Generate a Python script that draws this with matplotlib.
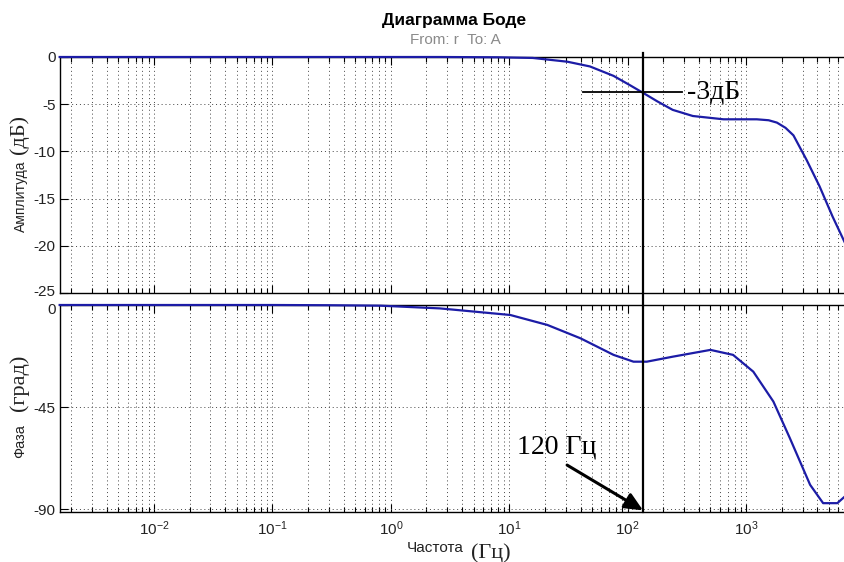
import numpy as np
import matplotlib
matplotlib.use("Agg")
import matplotlib.pyplot as plt
from matplotlib.lines import Line2D
from matplotlib.ticker import LogLocator, NullFormatter
import matplotlib.transforms as mtransforms

# ---- data ----
mag_freq = [0.0016, 0.01, 0.1, 1.0, 2.6, 8.0, 15.8, 31.0, 48.0, 76.0, 105.0, 135.0,
            178.0, 240.0, 355.0, 645.0, 1230.0, 1550.0, 1820.0, 2150.0, 2510.0,
            3240.0, 4170.0, 5370.0, 6840.0]
mag_db = [0.0, 0.0, 0.0, 0.0, 0.0, -0.03, -0.1, -0.5, -1.0, -2.0, -3.0, -3.8,
          -4.7, -5.6, -6.25, -6.6, -6.6, -6.7, -6.95, -7.5, -8.3,
          -10.9, -13.7, -16.9, -19.7]

ph_freq = [0.0016, 0.01, 0.1, 0.3, 0.82, 2.6, 10.2, 21.0, 40.0, 76.0, 112.0, 145.0,
           240.0, 500.0, 776.0, 1150.0, 1700.0, 2340.0, 3470.0, 4470.0, 5890.0, 6840.0]
ph_deg = [0.0, 0.0, 0.0, -0.1, -0.3, -1.5, -4.4, -8.8, -14.7, -22.0, -25.0, -25.0,
          -22.8, -19.8, -22.0, -29.4, -42.6, -58.7, -79.3, -87.4, -87.4, -84.4]

cursor_freq = 135.0
ref_db = -3.75
ref_line = [41.7, 286.0]
arrow_start = [30.8, -70.6]
arrow_end = [135.0, -90.6]
label_pos = [11.7, -65.3]
xlims = [10 ** -2.793, 10 ** 3.835]
mag_ticks = [0, -5, -10, -15, -20, -25]
ph_ticks = [0, -45, -90]
xticks = [1e-2, 1e-1, 1e0, 1e1, 1e2, 1e3]
xticklabels = [r"$10^{-2}$", r"$10^{-1}$", r"$10^{0}$", r"$10^{1}$", r"$10^{2}$", r"$10^{3}$"]

W, H = 845, 562
fig = plt.figure(figsize=(W / 100, H / 100), dpi=100)
plt.rcParams['mathtext.fontset'] = 'custom'
plt.rcParams['mathtext.rm'] = 'Liberation Sans'
plt.rcParams['mathtext.it'] = 'Liberation Sans'

sans = ['Liberation Sans', 'DejaVu Sans']
serif = ['Liberation Serif', 'DejaVu Serif']
line_col = '#1c1ca6'
tick_col = '#222222'

def fx(px):
    return px / W

def fy(py):
    return 1 - py / H

ax1 = fig.add_axes([fx(60), fy(293), fx(845) - fx(60), fy(57) - fy(293)])
ax2 = fig.add_axes([fx(60), fy(512), fx(845) - fx(60), fy(305) - fy(512)])

for ax in (ax1, ax2):
    ax.set_xscale('log')
    ax.set_xlim(xlims)
    ax.xaxis.set_major_locator(LogLocator(base=10, numticks=20))
    ax.xaxis.set_minor_locator(LogLocator(base=10, subs=np.arange(2, 10), numticks=200))
    ax.xaxis.set_minor_formatter(NullFormatter())
    ax.grid(True, which='major', axis='both', color='#444444', linestyle=(0, (1, 3)), linewidth=0.7)
    ax.grid(True, which='minor', axis='x', color='#444444', linestyle=(0, (1, 3)), linewidth=0.7)
    ax.tick_params(which='both', direction='in', top=True, right=False, colors='black',
                   labelcolor=tick_col, labelsize=11)
    ax.tick_params(which='major', length=6, width=0.8)
    ax.tick_params(which='minor', length=3.5, width=0.8)
    ax.spines['right'].set_visible(False)
    for s in ('left', 'top', 'bottom'):
        ax.spines[s].set_linewidth(1.0)

ax1.plot(mag_freq, mag_db, color=line_col, linewidth=1.6, solid_joinstyle='round', clip_on=False, zorder=5)
ax1.set_ylim(-25, 0)
ax1.set_yticks(mag_ticks)
ax1.set_yticklabels([str(v) for v in mag_ticks], family=sans)
ax1.tick_params(axis='x', labelbottom=False)
ax1.tick_params(axis='y', pad=3)

ax2.plot(ph_freq, ph_deg, color=line_col, linewidth=1.6, solid_joinstyle='round', clip_on=False, zorder=5)
ax2.set_ylim(-91.3, 0)
ax2.set_yticks(ph_ticks)
ax2.set_yticklabels([str(v) for v in ph_ticks], family=sans)
ax2.set_xticks(xticks)
ax2.set_xticklabels(xticklabels, family=sans)
ax2.tick_params(axis='x', pad=5)
ax2.tick_params(axis='y', pad=3)

# nudge the crowded "-25" / "0" labels apart slightly, as in the reference
lab_low = ax1.get_yticklabels()[-1]
lab_low.set_transform(lab_low.get_transform() + mtransforms.ScaledTranslation(0, 3 / 100, fig.dpi_scale_trans))
lab_top = ax2.get_yticklabels()[0]
lab_top.set_transform(lab_top.get_transform() + mtransforms.ScaledTranslation(0, -3 / 100, fig.dpi_scale_trans))

# -3 dB marker line
ax1.plot(ref_line, [ref_db, ref_db], color='black', linewidth=1.3, zorder=6)
ax1.text(ref_line[1] * 1.1, ref_db, "-3дБ", family=serif, fontsize=20,
         va='center', ha='left', color='black', zorder=7)

# cursor line spanning both axes
tr = mtransforms.blended_transform_factory(ax1.transData, fig.transFigure)
fig.add_artist(Line2D([cursor_freq, cursor_freq], [fy(53), fy(512)], transform=tr,
                      color='black', linewidth=1.6, zorder=10))

# frequency annotation
ax2.text(label_pos[0], label_pos[1], "120 Гц", family=serif, fontsize=20, color='black',
         ha='left', va='baseline', zorder=7)
ax2.annotate("", xy=(arrow_end[0], arrow_end[1]), xytext=(arrow_start[0], arrow_start[1]),
             arrowprops=dict(arrowstyle='-|>,head_length=1.1,head_width=0.5', color='black',
                             linewidth=2.2, shrinkA=0, shrinkB=0), annotation_clip=False)

# titles
fig.text(fx(454), fy(21), "Диаграмма Боде", family=sans, fontsize=12.5, fontweight='bold',
         ha='center', va='center', color='black')
fig.text(fx(455), fy(40), "From: r  To: A", family=sans, fontsize=11,
         ha='center', va='center', color='#8a8a8a')

# axis labels (mixed fonts)
fig.text(fx(21), fy(196), "Амплитуда", family=sans, fontsize=10, rotation=90,
         ha='center', va='center', color=tick_col)
fig.text(fx(19), fy(134), "(дБ)", family=serif, fontsize=16, rotation=90,
         ha='center', va='center', color=tick_col)
fig.text(fx(20), fy(441), "Фаза", family=sans, fontsize=10.5, rotation=90,
         ha='center', va='center', color=tick_col)
fig.text(fx(19), fy(383), "(град)", family=serif, fontsize=16, rotation=90,
         ha='center', va='center', color=tick_col)
fig.text(fx(435), fy(548), "Частота", family=sans, fontsize=11,
         ha='center', va='center', color=tick_col)
fig.text(fx(491), fy(553), "(Гц)", family=serif, fontsize=16,
         ha='center', va='center', color=tick_col)

fig.savefig("out.png", dpi=100)
